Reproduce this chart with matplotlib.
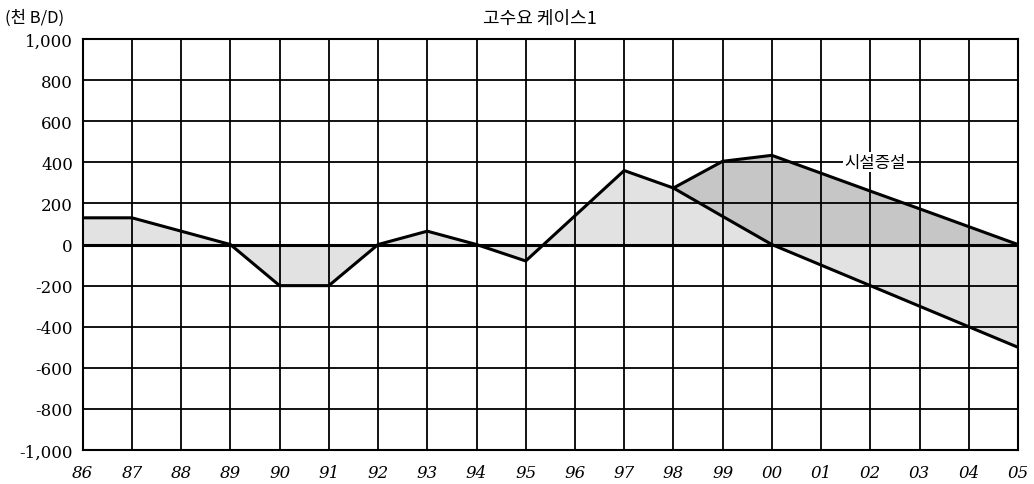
import numpy as np
import matplotlib.pyplot as plt

years = ['86', '87', '88', '89', '90', '91', '92', '93', '94', '95',
         '96', '97', '98', '99', '00', '01', '02', '03', '04', '05']
base = [130, 130, 65, 0, -200, -200, 0, 65, 0, -80,
        140, 360, 275, 137, 0, -100, -200, -300, -400, -500]
fac_years = ['98', '99', '00', '01', '02', '03', '04', '05']
facility = [275, 405, 434, 347, 260, 174, 87, 0]
yticks = [-1000, -800, -600, -400, -200, 0, 200, 400, 600, 800, 1000]

x = np.arange(len(years))
xf = np.array([years.index(y) for y in fac_years])
base = np.array(base, dtype=float)
facility = np.array(facility, dtype=float)

fig = plt.figure(figsize=(10.34, 4.85), dpi=100)
ax = fig.add_axes([0.080, 0.070, 0.9045, 0.8475])

# fills
ax.fill_between(x, base, 0, color='#e2e2e2', lw=0, zorder=1)
ax.fill_between(xf, facility, np.maximum(base[xf], 0), color='#c6c6c6', lw=0, zorder=1)

# grid
for xi in x:
    ax.axvline(xi, color='black', lw=1.3, zorder=2)
for yv in yticks:
    ax.axhline(yv, color='black', lw=1.3, zorder=2)
ax.axhline(0, color='black', lw=2.2, zorder=3)

ax.plot(x, base, color='black', lw=2.2, zorder=4)
ax.plot(xf, facility, color='black', lw=2.2, zorder=4)

ax.set_xlim(0, len(years) - 1)
ax.set_ylim(-1000, 1000)
ax.set_xticks(x)
ax.set_xticklabels(years, family='DejaVu Serif', style='italic', fontsize=12)
ax.set_yticks(yticks)
ax.set_yticklabels(['{:,}'.format(v) for v in yticks], family='DejaVu Serif', fontsize=12)
ax.tick_params(length=0, pad=7)
ax.tick_params(axis='x', pad=10)
for s in ax.spines.values():
    s.set_linewidth(1.5)

ax.text(16.1, 400, '시설증설', family=['Noto Sans CJK KR', 'DejaVu Sans'], fontsize=12,
        ha='center', va='center', zorder=5,
        bbox=dict(facecolor='white', edgecolor='none', pad=1))

fig.text(0.522, 0.962, '고수요 케이스1', family=['Noto Sans CJK KR', 'DejaVu Sans'],
         fontsize=13, ha='center', va='center')
fig.text(0.005, 0.962, '(천 B/D)', family=['Noto Sans CJK KR', 'DejaVu Serif'],
         fontsize=12, ha='left', va='center')

fig.savefig('out.png', dpi=100)
